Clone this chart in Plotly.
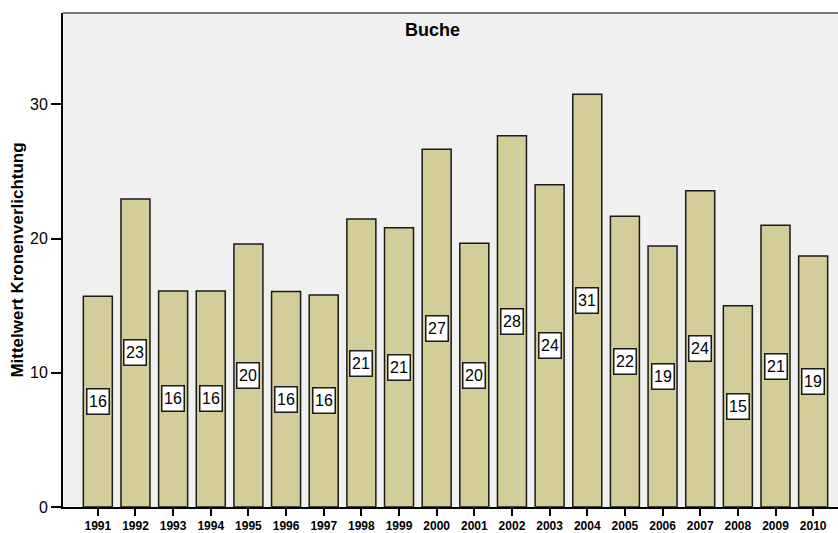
import plotly.graph_objects as go

years = ["1991", "1992", "1993", "1994", "1995", "1996", "1997", "1998", "1999", "2000",
         "2001", "2002", "2003", "2004", "2005", "2006", "2007", "2008", "2009", "2010"]
values = [15.7, 22.95, 16.1, 16.1, 19.6, 16.05, 15.8, 21.45, 20.8, 26.65,
          19.65, 27.65, 24.0, 30.75, 21.65, 19.45, 23.55, 15.0, 20.98, 18.7]
labels = [str(int(round(v))) for v in values]
idx = list(range(len(years)))

FONT = "Arial, Liberation Sans, sans-serif"

fig = go.Figure()
fig.add_trace(go.Bar(
    x=idx, y=values, width=0.77,
    marker=dict(color="#d3ce99", line=dict(color="#1a1a1a", width=1.5)),
    hoverinfo="skip", showlegend=False,
))

for i, v, t in zip(idx, values, labels):
    fig.add_annotation(
        x=i, y=v / 2, xref="x", yref="y", text=t, showarrow=False,
        font=dict(family=FONT, size=16, color="black"),
        width=19, height=22, align="center", valign="middle",
        bgcolor="white", bordercolor="#1a1a1a", borderwidth=1.5, borderpad=1,
    )

fig.add_annotation(
    xref="paper", yref="paper",
    x=(432 - 63) / (838 - 63), y=1 - (30 - 13) / (507 - 13),
    xanchor="center", yanchor="middle",
    text="<b>Buche</b>", showarrow=False,
    font=dict(family=FONT, size=18, color="black"),
)

fig.add_shape(type="line", xref="paper", yref="paper", x0=0, x1=1, y0=1, y1=1,
              line=dict(color="#777777", width=2))

fig.update_layout(
    width=838, height=533,
    margin=dict(l=63, r=0, t=13, b=26, pad=0),
    paper_bgcolor="white", plot_bgcolor="#f0f0f0",
    font=dict(family=FONT, color="black"),
    xaxis=dict(
        range=[-0.925, 19.66], tickvals=idx, ticktext=years,
        tickfont=dict(family=FONT, size=12, color="black", weight="bold"),
        showline=True, linecolor="black", linewidth=2,
        ticks="outside", ticklen=7, tickwidth=2, tickcolor="black",
        showgrid=False, zeroline=False, fixedrange=True,
    ),
    yaxis=dict(
        range=[0, 36.8], tickvals=[0, 10, 20, 30],
        tickfont=dict(family=FONT, size=16, color="black"),
        showline=True, linecolor="black", linewidth=2,
        ticks="outside", ticklen=10, tickwidth=2, tickcolor="black",
        showgrid=False, zeroline=False,
        title=dict(text="<b>Mittelwert Kronenverlichtung</b>",
                   font=dict(family=FONT, size=17, color="black"), standoff=2),
    ),
)

fig.write_html("out.html", config={"displayModeBar": False},
               post_script="document.body.style.margin='0';document.body.style.overflow='hidden';")
